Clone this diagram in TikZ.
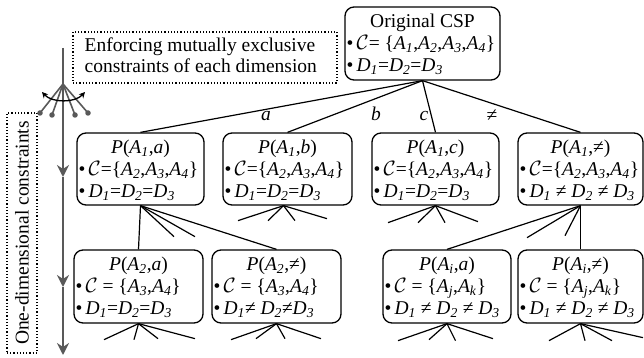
\documentclass[tikz,border=0pt]{standalone}
\usepackage{fontspec}
\setmainfont{Liberation Serif}
\usetikzlibrary{arrows.meta}
\definecolor{arrowgray}{RGB}{89,89,89}
\newcommand\iA[1]{\textit{A}\textsubscript{\textit{#1}}}
\newcommand\iD[1]{\textit{D}\textsubscript{\textit{#1}}}
\newcommand\cC{$\mathcal{C}$}
\newcommand\bul{\textbullet\,}
\newcommand\cbox[8]{%
  \node[cbox, minimum width=#4pt, minimum height=#5pt] (#1) at (#2,#3) {};
  \node[txt, anchor=base] (#1-t) at ([yshift=-21pt]#1.north) {#6};
  \node[txt, anchor=base west] (#1-c) at ([xshift=2pt,yshift=-43pt]#1.north west) {#7};
  \node[txt, anchor=base west] (#1-d) at ([xshift=2pt,yshift=-65pt]#1.north west) {#8};
}
\begin{document}
\begin{tikzpicture}[x=1pt,y=-1pt,
  txt/.style={inner sep=0pt, font=\fontsize{19.5}{22}\selectfont},
  cbox/.style={draw, rounded corners=9pt, line width=1.3pt, inner sep=0pt},
  edge/.style={line width=1.2pt},
  garrow/.style={draw=arrowgray, line width=2pt, -{Stealth[length=12pt,width=12pt,inset=4pt]}},
  dotbox/.style={draw, dotted, line width=1.2pt},
  gline/.style={draw=arrowgray, line width=1.6pt},
  gdot/.style={circle, fill=arrowgray, inner sep=0pt, minimum size=5.5pt}]
\useasboundingbox (0,0) rectangle (644,358);

% boxes
\cbox{root}{422.5}{43.5}{155}{73}{Original CSP}{\bul\cC= \{\iA1,\iA2,\iA3,\iA4\}}{\bul\iD1=\iD2=\iD3}
\cbox{pa}{140.5}{169}{127}{72}{\textit{P}(\iA1,\textit{a})}{\bul\cC=\{\iA2,\iA3,\iA4\}}{\bul\iD1=\iD2=\iD3}
\cbox{pb}{287.5}{169}{129}{72}{\textit{P}(\iA1,\textit{b})}{\bul\cC=\{\iA2,\iA3,\iA4\}}{\bul\iD1=\iD2=\iD3}
\cbox{pc}{435.5}{169}{127}{72}{\textit{P}(\iA1,\textit{c})}{\bul\cC=\{\iA2,\iA3,\iA4\}}{\bul\iD1=\iD2=\iD3}
\cbox{pn}{580.5}{169}{125}{72}{\textit{P}(\iA1,≠)}{\bul\cC=\{\iA2,\iA3,\iA4\}}{\bul\iD1 ≠ \iD2 ≠ \iD3}
\cbox{qa}{138.5}{286.5}{129}{73}{\textit{P}(\iA2,\textit{a})}{\bul\cC\ = \{\iA3,\iA4\}}{\bul\iD1=\iD2=\iD3}
\cbox{qn}{276.5}{286.5}{129}{73}{\textit{P}(\iA2,≠)}{\bul\cC\ = \{\iA3,\iA4\}}{\bul\iD1≠ \iD2≠\iD3}
\cbox{ra}{447}{286.5}{128}{73}{\textit{P}(\iA i,\textit{a})}{\bul\cC\ = \{\iA j,\iA k\}}{\bul\iD1 ≠ \iD2 ≠ \iD3}
\cbox{rn}{580.5}{286.5}{125}{73}{\textit{P}(\iA i,≠)}{\bul\cC\ = \{\iA j,\iA k\}}{\bul\iD1 ≠ \iD2 ≠ \iD3}

% root edges
\draw[edge] (root.south) -- (pa.north);
\draw[edge] (root.south) -- (pb.north);
\draw[edge] (root.south) -- (pc.north);
\draw[edge] (root.south) -- (pn.north);
\node[txt, font=\fontsize{19.5}{22}\selectfont\itshape] (la) at (266,116) {a};
\node[txt, font=\fontsize{19.5}{22}\selectfont\itshape] (lb) at (376,114) {b};
\node[txt, font=\fontsize{19.5}{22}\selectfont\itshape] (lc) at (424,116) {c};
\node[txt] (ln) at (492,116) {≠};

% level 2 fans
\draw[edge] (pa.south) -- (qa.north);
\draw[edge] (pa.south) -- ++(33.5,31);
\draw[edge] (pa.south) -- ++(54.5,31);
\draw[edge] (pa.south) -- (qn.north);
\coordinate (pbs) at ([xshift=-4pt]pb.south);
\draw[edge] (pbs) -- ++(-45.5,15);
\draw[edge] (pbs) -- ++(-15.5,15);
\draw[edge] (pbs) -- ++(11.5,15);
\draw[edge] (pbs) -- ++(43.5,13);
\draw[edge] (pc.south) -- ++(-47.5,17);
\draw[edge] (pc.south) -- ++(-17.5,17);
\draw[edge] (pc.south) -- ++(9.5,17);
\draw[edge] (pc.south) -- ++(42.5,16);
\draw[edge] (pn.south) -- (ra.north);
\draw[edge] (pn.south) -- ++(-53.5,32);
\draw[edge] (pn.south) -- ++(-15.5,30);
\draw[edge] (pn.south) -- (rn.north);

% level 3 fans
\draw[edge] (qa.south) -- ++(-34.5,16);
\draw[edge] (qa.south) -- ++(-4.5,16);
\draw[edge] (qa.south) -- ++(19.5,15);
\draw[edge] (qa.south) -- ++(56.5,15);
\draw[edge] (qn.south) -- ++(-45.5,16);
\draw[edge] (qn.south) -- ++(-20.5,15);
\draw[edge] (qn.south) -- ++(8.5,15);
\draw[edge] (qn.south) -- ++(44.5,15);
\draw[edge] (ra.south) -- ++(-49,17);
\draw[edge] (ra.south) -- ++(-18,16);
\draw[edge] (ra.south) -- ++(8.5,17);
\draw[edge] (ra.south) -- ++(46,15);
\draw[edge] (rn.south) -- ++(-31.5,17);
\draw[edge] (rn.south) -- ++(4.5,17);
\draw[edge] (rn.south) -- ++(31.5,17);
\draw[edge] (rn.south) -- ++(62.5,14);

% dotted annotation boxes
\node[dotbox, minimum width=264pt, minimum height=51pt, inner sep=0pt] (enf) at (205,57.5) {};
\node[txt, anchor=base west] (enf1) at ([xshift=12pt,yshift=-20pt]enf.north west) {Enforcing mutually exclusive};
\node[txt, anchor=base west] (enf2) at ([xshift=12pt,yshift=-41pt]enf.north west) {constraints of each dimension};
\node[dotbox, minimum width=30pt, minimum height=240pt, inner sep=0pt] (one) at (22,233) {};
\node[txt, rotate=90] (onet) at (one.center) {One-dimensional constraints};

% gray process arrow
\coordinate (g0) at (63,48);
\coordinate (g1) at (63,177);
\coordinate (g2) at (63,287);
\coordinate (g3) at (63,355);
\draw[garrow] (g0) -- (g1);
\draw[garrow] (g1) -- (g2);
\draw[garrow] (g2) -- (g3);

% branching icon
\coordinate (ap) at (63,84);
\node[gdot] (d1) at (40,113) {};
\node[gdot] (d2) at (52,115) {};
\node[gdot] (d3) at (75,115) {};
\node[gdot] (d4) at (88,113) {};
\draw[gline] (ap) -- (d1.center);
\draw[gline] (ap) -- (d2.center);
\draw[gline] (ap) -- (d3.center);
\draw[gline] (ap) -- (d4.center);
\coordinate (cl) at (42,92);
\coordinate (cr) at (85,92);
\draw[line width=1.3pt, {Stealth[length=6pt,width=6pt]}-{Stealth[length=6pt,width=6pt]}] (cl) .. controls (52,103) and (75,103) .. (cr);
\end{tikzpicture}
\end{document}
